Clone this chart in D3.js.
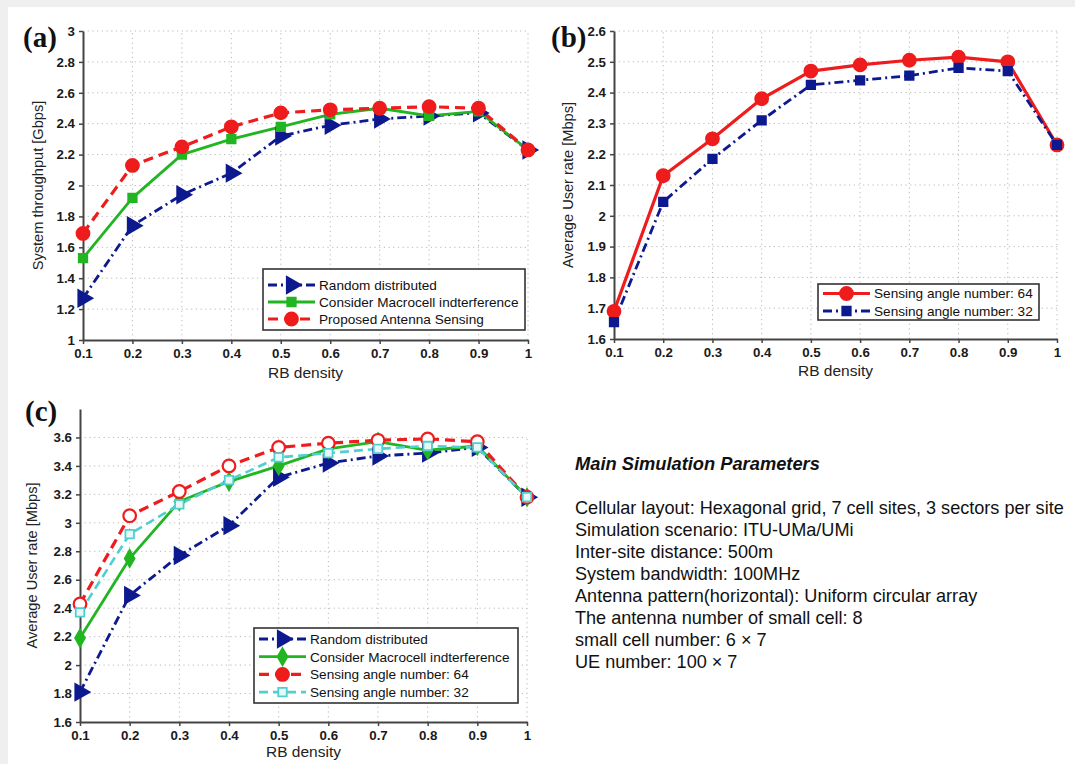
<!DOCTYPE html>
<html>
<head>
<meta charset="utf-8">
<script src="https://cdn.jsdelivr.net/npm/d3@7"></script>
<style>
html,body{margin:0;padding:0;background:#f0f0f0;}
svg{display:block;}
</style>
</head>
<body>
<svg id="chart" width="1075" height="764"></svg>
<script>
// ---------- DATA ----------
const rbDensity = [0.1, 0.2, 0.3, 0.4, 0.5, 0.6, 0.7, 0.8, 0.9, 1.0];
const xTickLabels = ["0.1","0.2","0.3","0.4","0.5","0.6","0.7","0.8","0.9","1"];

// panel (a): System throughput [Gbps]
const aRandom   = [1.27, 1.74, 1.94, 2.08, 2.32, 2.39, 2.43, 2.45, 2.47, 2.23];
const aMacro    = [1.53, 1.92, 2.20, 2.30, 2.38, 2.46, 2.50, 2.45, 2.48, 2.23];
const aProposed = [1.69, 2.13, 2.25, 2.38, 2.47, 2.49, 2.50, 2.51, 2.50, 2.23];
const aYTicks   = [1, 1.2, 1.4, 1.6, 1.8, 2, 2.2, 2.4, 2.6, 2.8, 3];

// panel (b): Average User rate [Mbps]
const bAngle64 = [1.69, 2.13, 2.25, 2.38, 2.47, 2.49, 2.505, 2.515, 2.50, 2.23];
const bAngle32 = [1.655, 2.045, 2.185, 2.31, 2.425, 2.44, 2.455, 2.48, 2.47, 2.23];
const bYTicks  = [1.6, 1.7, 1.8, 1.9, 2, 2.1, 2.2, 2.3, 2.4, 2.5, 2.6];

// panel (c): Average User rate [Mbps]
const cRandom  = [1.81, 2.49, 2.77, 2.98, 3.32, 3.42, 3.47, 3.49, 3.53, 3.18];
const cMacro   = [2.19, 2.75, 3.15, 3.29, 3.40, 3.52, 3.57, 3.51, 3.54, 3.18];
const cAngle64 = [2.43, 3.05, 3.22, 3.40, 3.53, 3.56, 3.58, 3.59, 3.57, 3.18];
const cAngle32 = [2.37, 2.92, 3.13, 3.30, 3.46, 3.49, 3.52, 3.54, 3.53, 3.18];
const cYTicks  = [1.6, 1.8, 2, 2.2, 2.4, 2.6, 2.8, 3, 3.2, 3.4, 3.6];

const labelRandom = "Random distributed";
const labelMacro = "Consider Macrocell indterference";
const labelProposed = "Proposed Antenna Sensing";
const label64 = "Sensing angle number: 64";
const label32 = "Sensing angle number: 32";

const paramTitle = "Main Simulation Parameters";
const paramLines = [
  "Cellular layout: Hexagonal grid, 7 cell sites, 3 sectors per site",
  "Simulation scenario: ITU-UMa/UMi",
  "Inter-site distance: 500m",
  "System bandwidth: 100MHz",
  "Antenna pattern(horizontal): Uniform circular array",
  "The antenna number of small cell: 8",
  "small cell number: 6 \u00d7 7",
  "UE number: 100 \u00d7 7"
];

// ---------- STYLES ----------
const RED = "#ee1c1c", GREEN = "#22b522", NAVY = "#0d1a8f", CYAN = "#4fd0d0";
const FONT = "Liberation Sans, Arial, sans-serif";
const styles = {
  random:   {color: NAVY,  width: 2.8, dash: "9,4,2,4", marker: "triR",   fill: NAVY},
  macro:    {color: GREEN, width: 2.8, dash: null,      marker: "square", fill: GREEN},
  macroD:   {color: GREEN, width: 2.8, dash: null,      marker: "diamond",fill: GREEN},
  proposed: {color: RED,   width: 3.2, dash: "10,6",    marker: "circle", fill: RED},
  s64solid: {color: RED,   width: 3.2, dash: null,      marker: "circle", fill: RED},
  s32navy:  {color: NAVY,  width: 2.8, dash: "9,4,2,4", marker: "square", fill: NAVY},
  s64dash:  {color: RED,   width: 3.2, dash: "10,6",    marker: "circle", fill: "#fff"},
  s32cyan:  {color: CYAN,  width: 2.6, dash: "9,5",     marker: "square", fill: "#e8f8f8"}
};

const svg = d3.select("#chart");
svg.append("rect").attr("x",0).attr("y",0).attr("width",1075).attr("height",764).attr("fill","#efefef");
svg.append("rect").attr("x",8).attr("y",7).attr("width",1067).attr("height",757).attr("fill","#ffffff");

function drawMarker(g, type, x, y, color, fill) {
  if (type === "circle") {
    g.append("circle").attr("cx",x).attr("cy",y).attr("r",6.3)
      .attr("fill",fill).attr("stroke",color).attr("stroke-width",2.2);
  } else if (type === "square") {
    g.append("path").attr("d", d3.symbol(d3.symbolSquare, 72)())
      .attr("transform",`translate(${x},${y})`)
      .attr("fill",fill).attr("stroke",color).attr("stroke-width",1.8);
  } else if (type === "diamond") {
    g.append("path").attr("d", d3.symbol(d3.symbolDiamond, 90)())
      .attr("transform",`translate(${x},${y})`)
      .attr("fill",fill).attr("stroke",color).attr("stroke-width",1.5);
  } else if (type === "triR") {
    g.append("path").attr("d", d3.symbol(d3.symbolTriangle, 115)())
      .attr("transform",`translate(${x},${y}) rotate(90)`)
      .attr("fill",fill).attr("stroke",color).attr("stroke-width",1.8);
  }
}

function drawPanel(cfg) {
  const x = d3.scaleLinear().domain([0.1, 1]).range([cfg.x0, cfg.x1]);
  const y = d3.scaleLinear().domain(cfg.yDomain).range([cfg.y0, cfg.y1]);
  const g = svg.append("g");

  // grid
  const grid = g.append("g").attr("stroke","#b8b8b8").attr("stroke-width",1).attr("stroke-dasharray","1.2,3.5");
  rbDensity.forEach(v => {
    if (v === 0.1) return;
    grid.append("line").attr("x1",x(v)).attr("x2",x(v)).attr("y1",cfg.y0).attr("y2",y(cfg.yTicks[cfg.yTicks.length-1]));
  });
  cfg.yTicks.forEach(v => {
    if (v === cfg.yDomain[0]) return;
    grid.append("line").attr("x1",cfg.x0).attr("x2",cfg.x1).attr("y1",y(v)).attr("y2",y(v));
  });

  // axes
  const xAxis = d3.axisBottom(x).tickValues(rbDensity).tickFormat((d,i)=>xTickLabels[i]).tickSize(4).tickSizeOuter(0);
  const yAxis = d3.axisLeft(y).tickValues(cfg.yTicks).tickFormat(d3.format("~g")).tickSize(4).tickSizeOuter(0);
  const gx = g.append("g").attr("transform",`translate(0,${cfg.y0})`).call(xAxis);
  const gy = g.append("g").attr("transform",`translate(${cfg.x0},0)`).call(yAxis);
  [gx, gy].forEach(ax => {
    ax.select(".domain").attr("stroke","#444").attr("stroke-width",2);
    ax.selectAll(".tick line").attr("stroke","#444").attr("stroke-width",1.5);
    ax.selectAll(".tick text").attr("fill","#1a1a1a").attr("font-family",FONT)
      .attr("font-weight","bold").attr("font-size",13.3);
  });
  gx.selectAll(".tick text").attr("dy","0.85em");
  gy.selectAll(".tick text").attr("dx","-1px");

  // series
  cfg.series.forEach(s => {
    const st = styles[s.style];
    const line = d3.line().x((d,i)=>x(rbDensity[i])).y(d=>y(d));
    g.append("path").datum(s.values).attr("d",line).attr("fill","none")
      .attr("stroke",st.color).attr("stroke-width",st.width)
      .attr("stroke-dasharray",st.dash).attr("stroke-linejoin","round");
  });
  cfg.series.forEach(s => {
    const st = styles[s.style];
    s.values.forEach((v,i) => drawMarker(g, st.marker, x(rbDensity[i]), y(v), st.color, st.fill));
  });

  // axis titles
  g.append("text").attr("x",(cfg.x0+cfg.x1)/2).attr("y",cfg.xTitleY).attr("text-anchor","middle")
    .attr("font-family",FONT).attr("font-size",15.5).attr("fill","#222").text("RB density");
  g.append("text").attr("transform",`translate(${cfg.yTitleX},${(cfg.y0+cfg.y1)/2+cfg.yTitleDy}) rotate(-90)`)
    .attr("text-anchor","middle").attr("font-family",FONT)
    .attr("font-size",14.6).attr("fill","#222").text(cfg.yTitle);

  // panel label
  g.append("text").attr("x",cfg.labX).attr("y",cfg.labY).attr("font-family","Liberation Serif, Times New Roman, serif")
    .attr("font-weight","bold").attr("font-size",29).attr("fill","#111").text(cfg.label);

  // legend
  const L = cfg.legend;
  const lg = g.append("g");
  lg.append("rect").attr("x",L.x).attr("y",L.y).attr("width",L.w).attr("height",L.h)
    .attr("fill","#fff").attr("stroke","#333").attr("stroke-width",1.6);
  cfg.series.forEach((s,i) => {
    const st = styles[s.style];
    const ry = L.y + L.first + i*L.step;
    lg.append("line").attr("x1",L.x+5).attr("x2",L.x+52).attr("y1",ry).attr("y2",ry)
      .attr("stroke",st.color).attr("stroke-width",st.width).attr("stroke-dasharray",st.dash);
    const mfill = (s.style === "s64dash") ? RED : st.fill;
    drawMarker(lg, st.marker, L.x+28.5, ry, st.color, mfill);
    lg.append("text").attr("x",L.x+L.textDx).attr("y",ry).attr("dy","0.36em")
      .attr("font-family",FONT).attr("font-size",13.6).attr("fill","#111").text(s.label);
  });
}

drawPanel({
  x0: 83, x1: 528, y0: 340, y1: 31, yDomain: [1, 3], yTicks: aYTicks,
  xTitleY: 378, yTitleX: 43, yTitleDy: 0, yTitle: "System throughput [Gbps]",
  label: "(a)", labX: 23, labY: 47,
  series: [
    {label: labelRandom, values: aRandom, style: "random"},
    {label: labelMacro, values: aMacro, style: "macro"},
    {label: labelProposed, values: aProposed, style: "proposed"}
  ],
  legend: {x: 263, y: 269, w: 262, h: 61, first: 16, step: 17, textDx: 56}
});

drawPanel({
  x0: 614, x1: 1057, y0: 339, y1: 31, yDomain: [1.6, 2.6], yTicks: bYTicks,
  xTitleY: 376, yTitleX: 573, yTitleDy: 0, yTitle: "Average User rate [Mbps]",
  label: "(b)", labX: 551, labY: 47,
  series: [
    {label: label64, values: bAngle64, style: "s64solid"},
    {label: label32, values: bAngle32, style: "s32navy"}
  ],
  legend: {x: 818, y: 284, w: 221, h: 36, first: 9.5, step: 17.5, textDx: 56}
});

drawPanel({
  x0: 80, x1: 527, y0: 722, y1: 409, yDomain: [1.6, 3.8], yTicks: cYTicks,
  xTitleY: 757, yTitleX: 37, yTitleDy: 0, yTitle: "Average User rate [Mbps]",
  label: "(c)", labX: 25, labY: 421,
  series: [
    {label: labelRandom, values: cRandom, style: "random"},
    {label: labelMacro, values: cMacro, style: "macroD"},
    {label: label64, values: cAngle64, style: "s64dash"},
    {label: label32, values: cAngle32, style: "s32cyan"}
  ],
  legend: {x: 254, y: 628, w: 264, h: 75, first: 11, step: 17.7, textDx: 56}
});

// parameters text block
svg.append("text").attr("x",575).attr("y",470).attr("font-family",FONT)
  .attr("font-weight","bold").attr("font-style","italic").attr("font-size",18.3).attr("fill","#111").text(paramTitle);
svg.append("g").selectAll("text").data(paramLines).join("text")
  .attr("x",575).attr("y",(d,i)=>514 + i*22)
  .attr("font-family",FONT).attr("font-size",18.1).attr("fill","#111")
  .text(d=>d);
</script>
</body>
</html>
